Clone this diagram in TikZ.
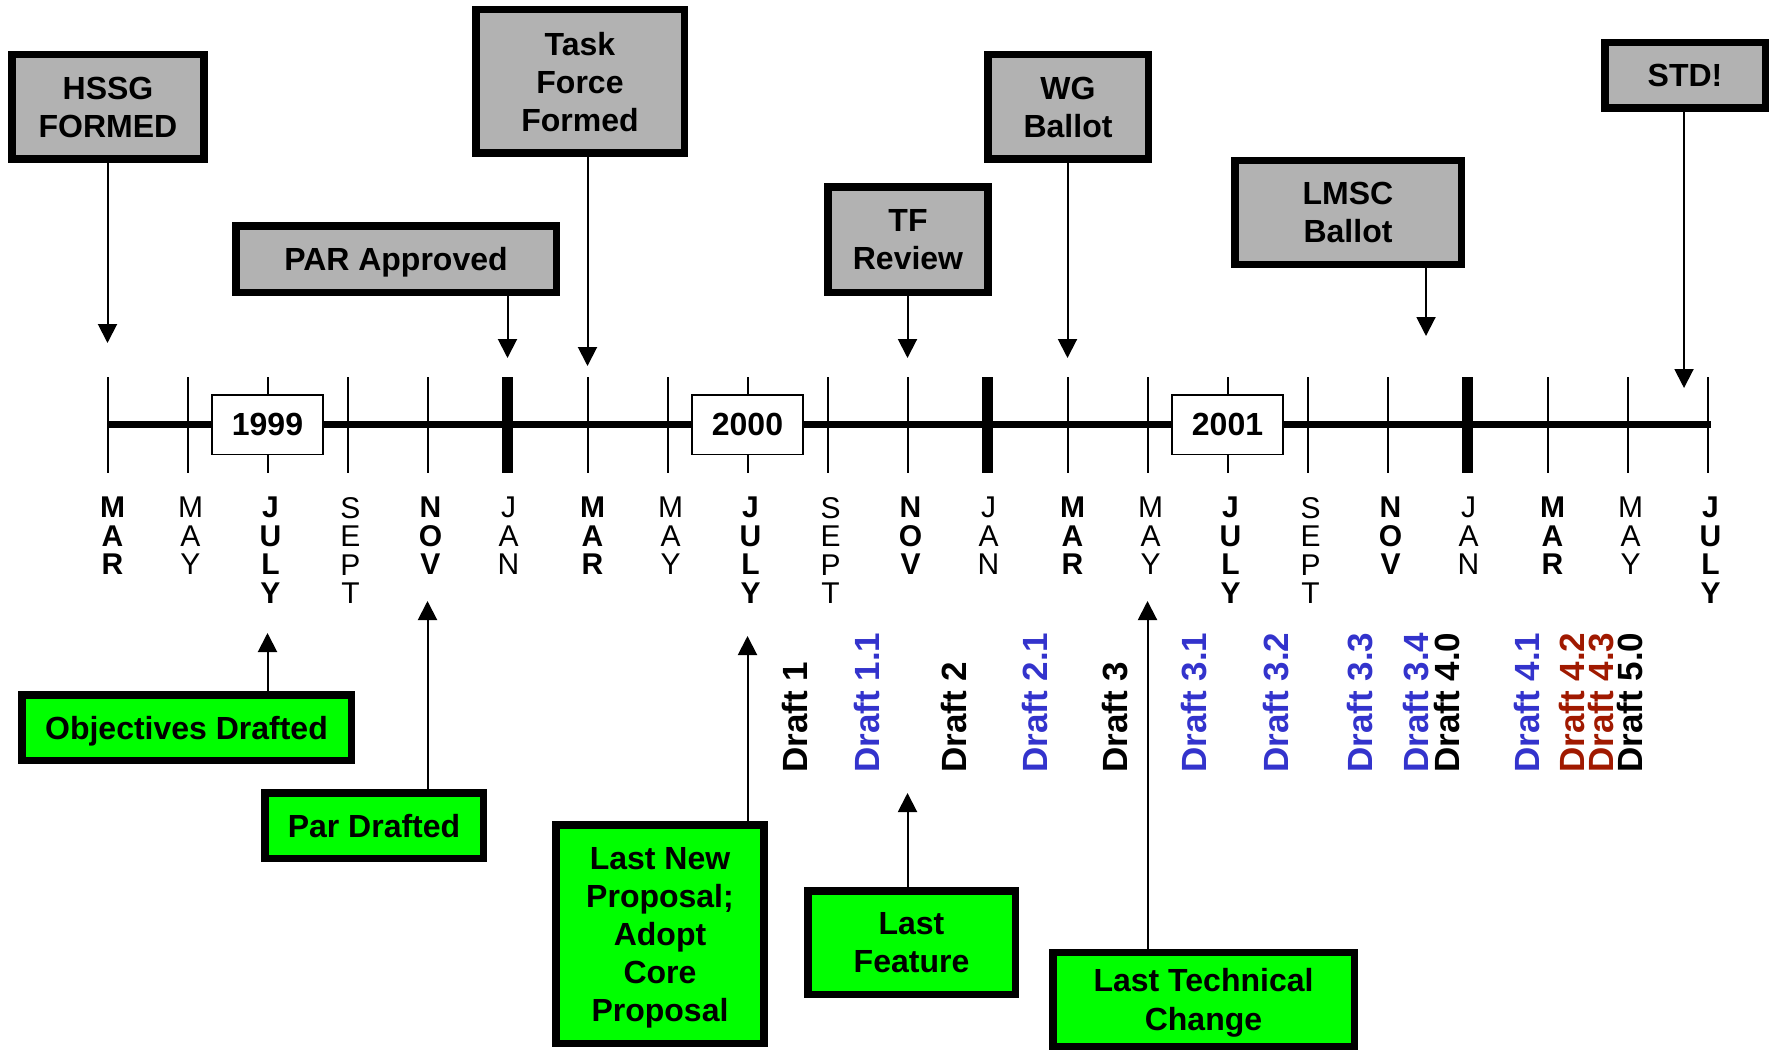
\documentclass[tikz,border=0pt]{standalone}
\usepackage{fontspec}
\setmainfont{Liberation Sans}
\usetikzlibrary{arrows.meta}
\definecolor{boxgray}{RGB}{178,178,178}
\definecolor{boxgreen}{RGB}{0,255,0}
\definecolor{draftblue}{RGB}{51,51,204}
\definecolor{draftred}{RGB}{160,25,0}
\tikzset{
  evbox/.style={draw=black, line width=7.5pt, align=center, inner sep=0pt, text depth=0pt,
    font=\fontsize{32}{38}\selectfont\bfseries},
  graybox/.style={evbox, fill=boxgray},
  greenbox/.style={evbox, fill=boxgreen},
  yearbox/.style={draw=black, line width=1.5pt, fill=white, inner sep=0pt,
    minimum width=111pt, minimum height=59.5pt, font=\fontsize{32}{38}\selectfont\bfseries},
  arr/.style={line width=2pt, -{Triangle[width=19pt,length=19pt]}},
  monthr/.style={align=center, anchor=north, inner sep=0pt, font=\fontsize{30}{28.5}\selectfont},
  monthb/.style={align=center, anchor=north, inner sep=0pt, font=\fontsize{30}{28.5}\selectfont\bfseries},
  draft/.style={rotate=90, anchor=base west, inner sep=0pt, font=\fontsize{35}{35}\selectfont\bfseries},
  thintick/.style={line width=2pt},
  thicktick/.style={line width=11pt},
}
\begin{document}
\begin{tikzpicture}[x=1pt,y=-1pt]
\useasboundingbox (0,0) rectangle (1775,1054);

% timeline ticks positions
\foreach \i in {0,...,20}{\coordinate (t\i) at ({107.5+80*\i},424.5);}
\draw[line width=7pt] (t0) -- ([xshift=3pt]t20);
\foreach \i in {0,1,2,3,4,6,7,8,9,10,12,13,14,15,16,18,19,20}{
  \draw[thintick] ({107.5+80*\i},377) -- ({107.5+80*\i},473);}
\foreach \i in {5,11,17}{
  \draw[thicktick] ({107.5+80*\i},377) -- ({107.5+80*\i},473);}

% year boxes
\node[yearbox] (y1999) at (t2) {1999};
\node[yearbox] (y2000) at (t8) {2000};
\node[yearbox] (y2001) at (t14) {2001};

% month labels
\node[monthb] (m0)  at (112.5,497) {M\\A\\R};
\node[monthr] (m1)  at (190.5,497) {M\\A\\Y};
\node[monthb] (m2)  at (270.5,497) {J\\U\\L\\Y};
\node[monthr] (m3)  at (350.5,497) {S\\E\\P\\T};
\node[monthb] (m4)  at (430.5,497) {N\\O\\V};
\node[monthr] (m5)  at (508.5,497) {J\\A\\N};
\node[monthb] (m6)  at (592.5,497) {M\\A\\R};
\node[monthr] (m7)  at (670.5,497) {M\\A\\Y};
\node[monthb] (m8)  at (750.5,497) {J\\U\\L\\Y};
\node[monthr] (m9)  at (830.5,497) {S\\E\\P\\T};
\node[monthb] (m10) at (910.5,497) {N\\O\\V};
\node[monthr] (m11) at (988.5,497) {J\\A\\N};
\node[monthb] (m12) at (1072.5,497) {M\\A\\R};
\node[monthr] (m13) at (1150.5,497) {M\\A\\Y};
\node[monthb] (m14) at (1230.5,497) {J\\U\\L\\Y};
\node[monthr] (m15) at (1310.5,497) {S\\E\\P\\T};
\node[monthb] (m16) at (1390.5,497) {N\\O\\V};
\node[monthr] (m17) at (1468.5,497) {J\\A\\N};
\node[monthb] (m18) at (1552.5,497) {M\\A\\R};
\node[monthr] (m19) at (1630.5,497) {M\\A\\Y};
\node[monthb] (m20) at (1710.5,497) {J\\U\\L\\Y};

% drafts
\node[draft] (d10) at (807,773) {Draft 1};
\node[draft, text=draftblue] (d11) at (879,773) {Draft 1.1};
\node[draft] (d20) at (966,773) {Draft 2};
\node[draft, text=draftblue] (d21) at (1047,773) {Draft 2.1};
\node[draft] (d30) at (1127,773) {Draft 3};
\node[draft, text=draftblue] (d31) at (1206,773) {Draft 3.1};
\node[draft, text=draftblue] (d32) at (1288,773) {Draft 3.2};
\node[draft, text=draftblue] (d33) at (1372,773) {Draft 3.3};
\node[draft, text=draftblue] (d34) at (1428,773) {Draft 3.4};
\node[draft] (d40) at (1459,773) {Draft 4.0};
\node[draft, text=draftblue] (d41) at (1539,773) {Draft 4.1};
\node[draft, text=draftred] (d42) at (1584,773) {Draft 4.2};
\node[draft, text=draftred] (d43) at (1613,773) {Draft 4.3};
\node[draft] (d50) at (1642,773) {Draft 5.0};

% gray event boxes
\node[graybox, minimum width=192pt, minimum height=104.5pt] (hssg) at (108,107) {HSSG\\FORMED};
\node[graybox, minimum width=208.5pt, minimum height=143.5pt] (tf) at (580,81.5) {Task\\Force\\Formed};
\node[graybox, minimum width=320.5pt, minimum height=66.5pt] (par) at (396,259) {PAR Approved};
\node[graybox, minimum width=160pt, minimum height=105.5pt] (tfr) at (908,239.5) {TF\\Review};
\node[graybox, minimum width=160.5pt, minimum height=104.5pt] (wg) at (1068,107) {WG\\Ballot};
\node[graybox, minimum width=226.5pt, minimum height=103.5pt] (lmsc) at (1348,212.5) {LMSC\\Ballot};
\node[graybox, minimum width=160.5pt, minimum height=65.5pt] (std) at (1685,75.5) {STD!};

\coordinate (hssgtip) at (107.5,343);
\coordinate (tftip) at (587.5,366);
\coordinate (partip) at (507.5,358);
\coordinate (tfrtip) at (907.5,358);
\coordinate (wgtip) at (1067.5,358);
\coordinate (lmsctip) at (1426,336);
\coordinate (stdtip) at (1684,388);

\draw[arr] (hssg.south -| hssgtip) -- (hssgtip);
\draw[arr] (tf.south -| tftip) -- (tftip);
\draw[arr] (par.south -| partip) -- (partip);
\draw[arr] (tfr.south -| tfrtip) -- (tfrtip);
\draw[arr] (wg.south -| wgtip) -- (wgtip);
\draw[arr] (lmsc.south -| lmsctip) -- (lmsctip);
\draw[arr] (std.south -| stdtip) -- (stdtip);

% green event boxes
\node[greenbox, minimum width=329.5pt, minimum height=65.5pt] (obj) at (186.5,727.5) {Objectives Drafted};
\node[greenbox, minimum width=218.5pt, minimum height=65.5pt] (pard) at (374,825.5) {Par Drafted};
\node[greenbox, minimum width=208pt, minimum height=218.5pt] (lnp) at (660,934) {Last New\\Proposal;\\Adopt\\Core\\Proposal};
\node[greenbox, minimum width=207.5pt, minimum height=103.5pt] (lf) at (911.5,942.5) {Last\\Feature};
\node[greenbox, minimum width=301.5pt, minimum height=94pt, font=\fontsize{32}{39.5}\selectfont\bfseries] (ltc) at (1203.5,999.5) {Last Technical\\Change};

\coordinate (objtip) at (267.5,633);
\coordinate (pardtip) at (427.5,601);
\coordinate (lnptip) at (747.5,636);
\coordinate (lftip) at (907.5,793);
\coordinate (ltctip) at (1147.5,601);

\draw[arr] (obj.north -| objtip) -- (objtip);
\draw[arr] (pard.north -| pardtip) -- (pardtip);
\draw[arr] (lnp.north -| lnptip) -- (lnptip);
\draw[arr] (lf.north -| lftip) -- (lftip);
\draw[arr] (ltc.north -| ltctip) -- (ltctip);
\end{tikzpicture}
\end{document}
